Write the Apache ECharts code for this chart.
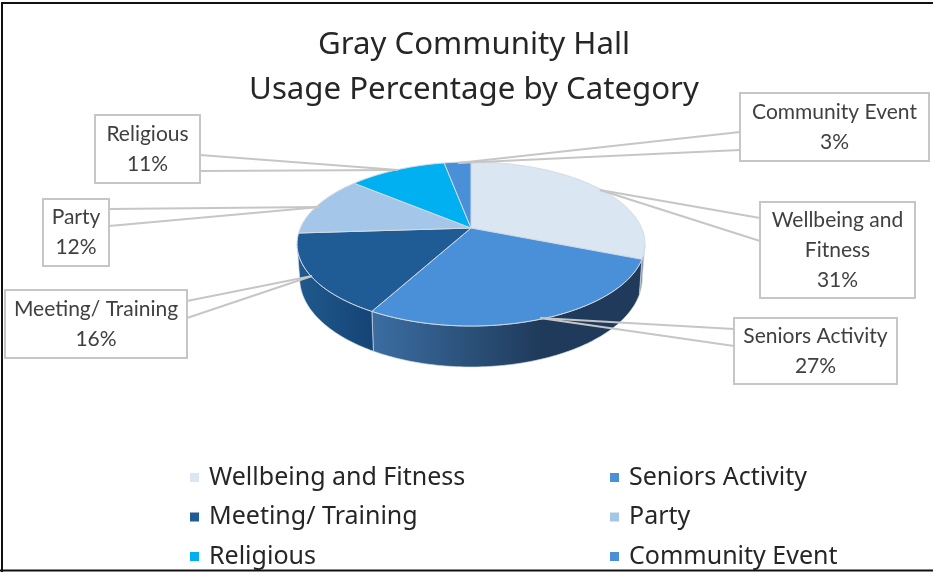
<!DOCTYPE html>
<html><head><meta charset="utf-8">
<style>html,body{margin:0;padding:0;background:#fff}#c{width:933px;height:572px}</style>
<script src="https://cdn.jsdelivr.net/npm/echarts@6/dist/echarts.min.js"></script>
</head><body><div id="c"></div>
<script>
// ---- data ----
const categories = ['Wellbeing and Fitness','Seniors Activity','Meeting/ Training','Party','Religious','Community Event'];
const shares = [31,27,16,12,11,3];
const labelLines = [['Wellbeing and','Fitness'],['Seniors Activity'],['Meeting/ Training'],['Party'],['Religious'],['Community Event']];
const titleLines = ['Gray Community Hall','Usage Percentage by Category'];
// ---- style ----
const topColors = ['#dae6f2','#4a90d9','#1f5c96','#a4c6e8','#00b0f0','#4a90d9'];
const grad = (stops)=>({type:'linear',x:0,y:0,x2:1,y2:0,colorStops:stops});
const wallFills = [
  '#7f8fa3',
  grad([{offset:0,color:'#3b6ea3'},{offset:.63,color:'#1f3a5a'},{offset:1,color:'#1f3a5a'}]),
  grad([{offset:0,color:'#205a8e'},{offset:1,color:'#154375'}]),
  '#6f8fb0','#0080b0','#33689c'];
// ---- projection of the pie disc (perspective tilt) ----
const P = {cx:471, cy:228, rx:170.6, ry:78.9, k:0.195, wall:33, bottomScale:0.985};
const deg = Math.PI/180;
function discTop(a){const u=Math.sin(a*deg),v=-Math.cos(a*deg),w=1-P.k*v;
  return [P.cx+P.rx*u/w,P.cy+P.ry*v/w];}
function discBottom(a){const v=-Math.cos(a*deg),w=1-P.k*v,p=discTop(a);
  return [P.cx+(p[0]-P.cx)*P.bottomScale,p[1]+P.wall/w];}
const total = shares.reduce((s,x)=>s+x,0);
const silhouette = [Math.acos(-P.k)/deg, 360-Math.acos(-P.k)/deg];
function arc(fn,a0,a1){const n=Math.max(2,Math.ceil(Math.abs(a1-a0))),r=[];
  for(let i=0;i<=n;i++)r.push(fn(a0+(a1-a0)*i/n));return r;}
function renderSlice(params,api){
  const i=params.seriesIndex;
  const before=shares.slice(0,i).reduce((s,x)=>s+x,0);
  const a0=before/total*360,a1=a0+api.value(0)/total*360;
  const children=[];
  const w0=Math.max(a0,silhouette[0]),w1=Math.min(a1,silhouette[1]);
  if(w1>w0){
    children.push({type:'polygon',
      shape:{points:arc(discTop,w0,w1).concat(arc(discBottom,w1,w0))},
      style:{fill:wallFills[i],stroke:'rgba(215,222,230,0.65)',lineWidth:1}});
  }
  children.push({type:'polygon',
    shape:{points:[[P.cx,P.cy]].concat(arc(discTop,a0,a1))},
    style:{fill:topColors[i],stroke:'#d4dbe3',lineWidth:1,lineJoin:'round'}});
  return {type:'group',children};
}
// ---- callouts layout, same order as categories ----
const boxes = [
 {x:760,y:202,w:155,h:96,a:[600,190],l:[[760,218],[760,241]]},
 {x:734,y:318,w:163,h:66,a:[540,318],l:[[734,329],[734,346]]},
 {x:5,y:290,w:182,h:68,a:[312,276],l:[[187,301],[187,318]]},
 {x:43,y:199,w:66,h:67,a:[320,207],l:[[109,209],[109,226]]},
 {x:95,y:115,w:105,h:68,a:[398,170],l:[[200,155],[200,171]]},
 {x:740,y:93,w:189,h:68,a:[458,163],l:[[740,132],[740,150]]}
];
const lineH=30;
const lineColor='#c6c6c6';
const graphics=[
 {type:'polyline',z:1,silent:true,shape:{points:[[2,572],[2,3],[933,3]]},style:{fill:'none',stroke:'#111',lineWidth:2}},
 {type:'line',z:1,silent:true,shape:{x1:0,y1:570.5,x2:933,y2:570.5},style:{stroke:'#111',lineWidth:2}}
];
boxes.forEach((b,i)=>{
  b.l.forEach(p=>graphics.push({type:'polyline',z:100,silent:true,shape:{points:[p,b.a]},style:{stroke:lineColor,lineWidth:2,fill:'none'}}));
  graphics.push({type:'rect',z:101,silent:true,shape:{x:b.x,y:b.y,width:b.w,height:b.h},style:{fill:'#fff',stroke:lineColor,lineWidth:2}});
  const lines=labelLines[i].concat([shares[i]+'%']);
  graphics.push({type:'text',z:102,silent:true,x:b.x+b.w/2,y:b.y+b.h/2,
    style:{text:lines.join('\n'),align:'center',verticalAlign:'middle',lineHeight:lineH,
      font:'21px Lato, sans-serif',fill:'#404040'}});
});
const legendBase={orient:'vertical',itemWidth:9,itemHeight:9,itemGap:14.5,icon:'rect',selectedMode:false,
  textStyle:{fontFamily:'"Noto Sans", sans-serif',fontSize:25,color:'#262626',lineHeight:25,padding:[0,0,0,5]},padding:0};
const chart=echarts.init(document.getElementById('c'),null,{renderer:'canvas'});
chart.setOption({
  animation:false,backgroundColor:'#fff',
  title:{text:titleLines.join('\n'),left:474,top:23,padding:0,textAlign:'center',
    textStyle:{fontFamily:'"Noto Sans", sans-serif',fontWeight:'normal',fontSize:31.2,lineHeight:45,color:'#262626'}},
  tooltip:{show:false},
  legend:[
    Object.assign({},legendBase,{left:190,top:465,data:categories.filter((c,i)=>i%2==0)}),
    Object.assign({},legendBase,{left:610,top:465,data:categories.filter((c,i)=>i%2==1)})
  ],
  graphic:graphics,
  series:categories.map((name,i)=>({type:'custom',name,coordinateSystem:'none',
    itemStyle:{color:topColors[i]},renderItem:renderSlice,data:[[shares[i]]],silent:true}))
});
</script></body></html>
